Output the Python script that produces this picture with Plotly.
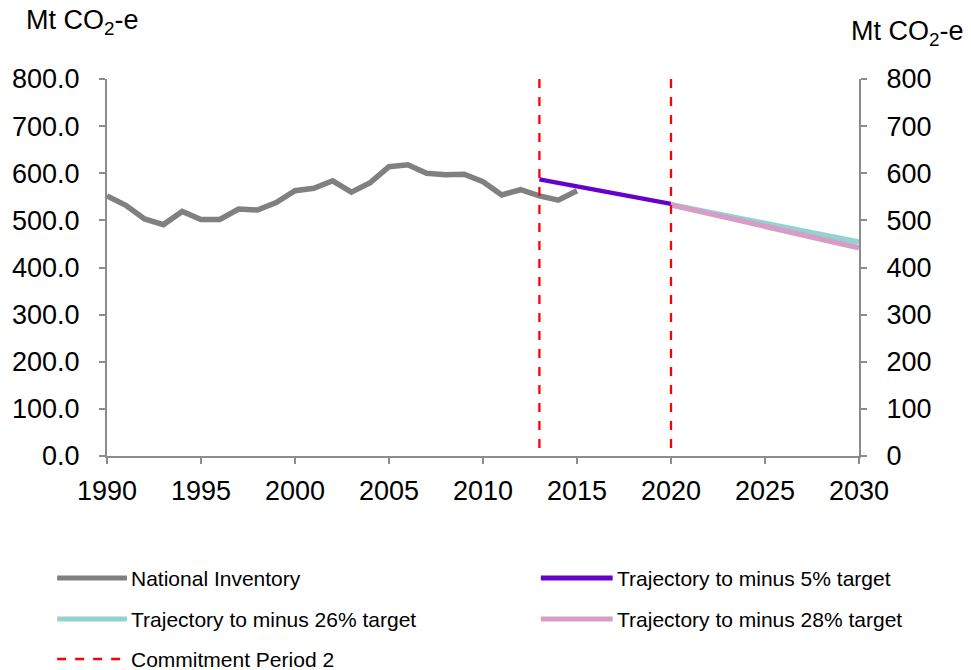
import plotly.graph_objects as go

# ---- data ----
inv_years = list(range(1990, 2016))
inv_values = [552, 532, 503, 491, 519, 502, 502, 524, 522, 538, 563, 568, 584, 560, 580,
              614, 618, 600, 597, 598, 582, 554, 565, 552, 543, 563]

traj5_years = [2013, 2020]
traj5_values = [587, 535]

traj26_years = [2020, 2030]
traj26_values = [533, 454]

traj28_years = [2020, 2030]
traj28_values = [533, 442]

cp_years = [2013, 2020]
cp_range = [800, 0]

names = ["National Inventory", "Trajectory to minus 5% target",
         "Trajectory to minus 26% target", "Trajectory to minus 28% target",
         "Commitment Period 2"]
colors = ["#808080", "#6600CC", "#93D3CF", "#D69EC6", "#FF0000"]
widths = [5.5, 4.5, 5.5, 5.5, 2.3]

FONT = "Liberation Sans, Arial, sans-serif"
AXC = "#8C8C8C"

fig = go.Figure()
fig.add_trace(go.Scatter(x=inv_years, y=inv_values, mode="lines", name=names[0],
                         line=dict(color=colors[0], width=widths[0])))
fig.add_trace(go.Scatter(x=traj5_years, y=traj5_values, mode="lines", name=names[1],
                         line=dict(color=colors[1], width=widths[1])))
fig.add_trace(go.Scatter(x=traj26_years, y=traj26_values, mode="lines", name=names[2],
                         line=dict(color=colors[2], width=widths[2])))
fig.add_trace(go.Scatter(x=traj28_years, y=traj28_values, mode="lines", name=names[3],
                         line=dict(color=colors[3], width=widths[3])))
cx, cy = [], []
for yr in cp_years:
    cx += [yr, yr, None]
    cy += [cp_range[0], cp_range[1], None]
fig.add_trace(go.Scatter(x=cx, y=cy, mode="lines", name=names[4],
                         line=dict(color=colors[4], width=widths[4], dash="9px,9px")))
# invisible trace to activate the secondary axis
fig.add_trace(go.Scatter(x=[1990], y=[0], yaxis="y2", mode="markers",
                         marker=dict(opacity=0), showlegend=False, hoverinfo="skip"))

L, R, T, B = 105, 112, 79, 214
W, H = 971, 670
pw, ph = W - L - R, H - T - B

def px_x(x):
    return (x - L) / pw

def px_y(y):
    return (H - B - y) / ph

shapes = []
annotations = []
legend_items = [
    (0, 55, 125, 127, 578),
    (1, 540, 612, 614, 578),
    (2, 55, 125, 127, 619),
    (3, 540, 612, 614, 619),
    (4, 55, 120, 127, 659),
]
for idx, x0, x1, xt, yrow in legend_items:
    shapes.append(dict(type="line", xref="paper", yref="paper",
                       x0=px_x(x0), x1=px_x(x1), y0=px_y(yrow), y1=px_y(yrow),
                       line=dict(color=colors[idx], width=5 if idx != 4 else 2.3,
                                 dash="9px,9px" if idx == 4 else "solid")))
    annotations.append(dict(xref="paper", yref="paper", x=px_x(xt), y=px_y(yrow),
                            xanchor="left", yanchor="middle", showarrow=False,
                            text=names[idx], font=dict(size=21, color="#000000", family=FONT)))

annotations.append(dict(xref="paper", yref="paper", x=px_x(22), y=px_y(22),
                        xanchor="left", yanchor="middle", showarrow=False,
                        text="Mt CO<sub>2</sub>-e", font=dict(size=27, color="#000000", family=FONT)))
annotations.append(dict(xref="paper", yref="paper", x=px_x(849), y=px_y(33),
                        xanchor="left", yanchor="middle", showarrow=False,
                        text="Mt CO<sub>2</sub>-e", font=dict(size=27, color="#000000", family=FONT)))

fig.update_layout(
    width=W, height=H,
    margin=dict(l=L, r=R, t=T, b=B),
    paper_bgcolor="white", plot_bgcolor="white",
    showlegend=False,
    font=dict(family=FONT, size=24, color="#000000"),
    xaxis=dict(range=[1990, 2030], dtick=5, tick0=1990, showgrid=False, zeroline=False,
               showline=True, linecolor=AXC, linewidth=2, ticks="outside", ticklen=6,
               tickcolor=AXC, tickwidth=2, tickfont=dict(size=27), ticklabelstandoff=4),
    yaxis=dict(range=[0, 800], dtick=100, tickformat=".1f", showgrid=False, zeroline=False,
               showline=True, linecolor=AXC, linewidth=2, ticks="outside", ticklen=6,
               tickcolor=AXC, tickwidth=2, tickfont=dict(size=27), ticklabelstandoff=14),
    yaxis2=dict(range=[0, 800], dtick=100, tickformat="d", overlaying="y", side="right",
                showgrid=False, zeroline=False, showline=True, linecolor=AXC, linewidth=2,
                ticks="outside", ticklen=6, tickcolor=AXC, tickwidth=2,
                tickfont=dict(size=27), ticklabelstandoff=14),
    shapes=shapes,
    annotations=annotations,
)

fig.write_html("out.html", config={"displayModeBar": False},
               post_script="document.body.style.margin='0px';document.body.style.padding='0px';")
